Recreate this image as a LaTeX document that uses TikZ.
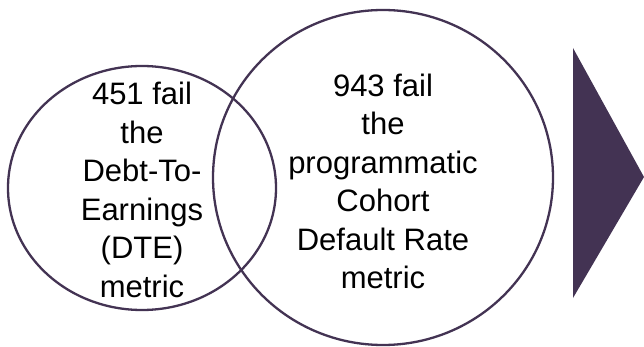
\documentclass[tikz,border=0pt]{standalone}
\usepackage{fontspec}
\setmainfont{Liberation Sans}
\usetikzlibrary{shapes.geometric}
\definecolor{venn}{RGB}{67,51,83}
\tikzset{
  vennset/.style={ellipse, draw=venn, line width=2.3pt, inner sep=0pt},
  venntext/.style={align=center, inner sep=0pt, font=\fontsize{31}{38.5}\selectfont},
}
\begin{document}
\begin{tikzpicture}[x=1pt, y=-1pt]
            \useasboundingbox (0,0) rectangle (644,347);
            \node[vennset, minimum width=268pt, minimum height=244pt] (dte) at (142,188) {};
            \node[vennset, minimum width=340pt, minimum height=335pt] (cdr) at (383,177.5) {};
            \node[venntext, yshift=-2pt] (dtetext) at (dte.center)
                {451 fail\\the\\Debt-To-\\Earnings\\(DTE)\\metric};
            \node[venntext, yshift=-4pt] (cdrtext) at (cdr.center)
                {943 fail\\the\\programmatic\\Cohort\\Default Rate\\metric};
            \fill[venn] (573,48) -- (644,177) -- (573,298) -- cycle;
        \end{tikzpicture}
\end{document}
